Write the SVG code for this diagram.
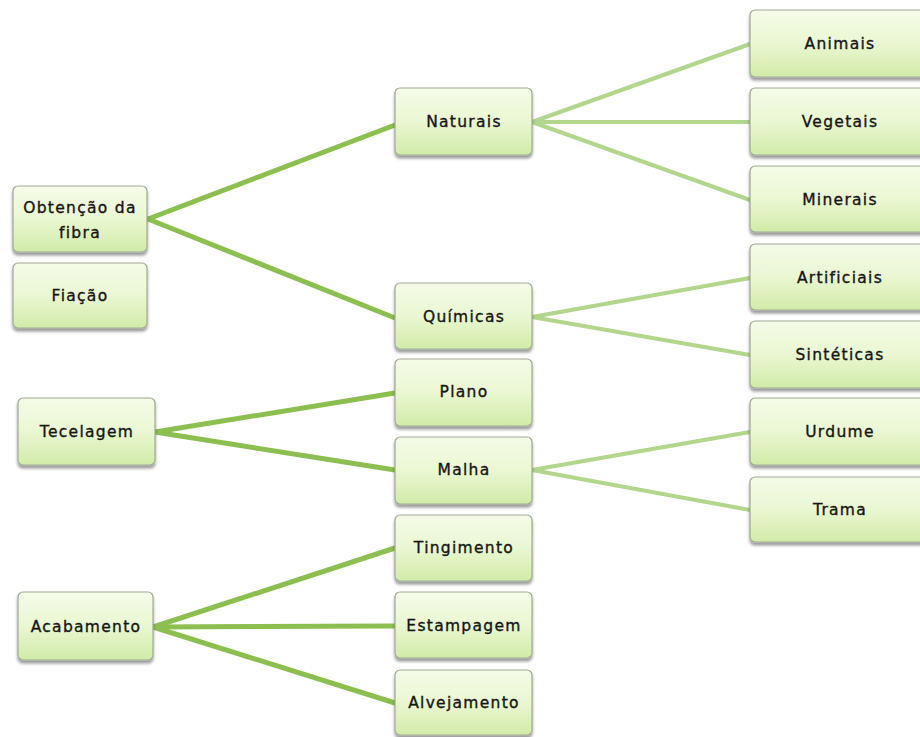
<svg xmlns="http://www.w3.org/2000/svg" width="920" height="737" viewBox="0 0 920 737">
<defs>
<linearGradient id="g" x1="0" y1="0" x2="0" y2="1">
<stop offset="0" stop-color="#f5fbe8"/>
<stop offset="0.5" stop-color="#eaf7d2"/>
<stop offset="1" stop-color="#d1eba8"/>
</linearGradient>
<filter id="sh" x="-10%" y="-10%" width="120%" height="130%">
<feGaussianBlur in="SourceAlpha" stdDeviation="1.5"/>
<feOffset dx="0" dy="2.5" result="b"/>
<feComponentTransfer><feFuncA type="linear" slope="0.4"/></feComponentTransfer>
<feMerge><feMergeNode/><feMergeNode in="SourceGraphic"/></feMerge>
</filter>
</defs>
<style>
.box{fill:url(#g);stroke:#9fa995;stroke-width:1.2;filter:url(#sh)}
.t{font-family:"DejaVu Sans",Verdana,sans-serif;font-size:15.5px;letter-spacing:1.3px;fill:#151515;stroke:#151515;stroke-width:0.35;text-anchor:middle;dominant-baseline:central}
.l1{stroke:#8dbe50;stroke-width:5;fill:none;stroke-linecap:round}
.l2{stroke:#b2d68b;stroke-width:4;fill:none;stroke-linecap:round}
</style>
<rect width="920" height="737" fill="#ffffff"/>
<g id="connectors">
<line class="l1" x1="148" y1="219" x2="395" y2="125"/>
<line class="l1" x1="148" y1="219" x2="395" y2="318"/>
<line class="l2" x1="532" y1="122" x2="750" y2="44"/>
<line class="l2" x1="532" y1="122" x2="750" y2="122"/>
<line class="l2" x1="532" y1="122" x2="750" y2="200"/>
<line class="l2" x1="532" y1="317" x2="750" y2="278"/>
<line class="l2" x1="532" y1="317" x2="750" y2="355"/>
<line class="l1" x1="155" y1="432" x2="395" y2="393"/>
<line class="l1" x1="155" y1="432" x2="395" y2="470"/>
<line class="l2" x1="532" y1="470" x2="750" y2="432"/>
<line class="l2" x1="532" y1="470" x2="750" y2="510"/>
<line class="l1" x1="153" y1="627" x2="395" y2="548"/>
<line class="l1" x1="153" y1="627" x2="395" y2="626"/>
<line class="l1" x1="153" y1="627" x2="395" y2="703"/>
</g>
<g id="obtencao"><rect class="box" x="13" y="186" width="134" height="66" rx="5"/><text class="t" x="80" y="208">Obtenção da</text><text class="t" x="80" y="233">fibra</text></g>
<g id="fiacao"><rect class="box" x="13" y="263" width="134" height="65" rx="5"/><text class="t" x="80" y="296">Fiação</text></g>
<g id="tecelagem"><rect class="box" x="18" y="398" width="137" height="67" rx="5"/><text class="t" x="87" y="432">Tecelagem</text></g>
<g id="acabamento"><rect class="box" x="18" y="592" width="135" height="68" rx="5"/><text class="t" x="86" y="627">Acabamento</text></g>
<g id="naturais"><rect class="box" x="395" y="88" width="137" height="67" rx="5"/><text class="t" x="464" y="122">Naturais</text></g>
<g id="quimicas"><rect class="box" x="395" y="283" width="137" height="66" rx="5"/><text class="t" x="464" y="317">Químicas</text></g>
<g id="plano"><rect class="box" x="395" y="359" width="137" height="67" rx="5"/><text class="t" x="464" y="392">Plano</text></g>
<g id="malha"><rect class="box" x="395" y="437" width="137" height="67" rx="5"/><text class="t" x="464" y="470">Malha</text></g>
<g id="tingimento"><rect class="box" x="395" y="515" width="137" height="66" rx="5"/><text class="t" x="464" y="548">Tingimento</text></g>
<g id="estampagem"><rect class="box" x="395" y="592" width="137" height="66" rx="5"/><text class="t" x="464" y="626">Estampagem</text></g>
<g id="alvejamento"><rect class="box" x="395" y="670" width="137" height="65" rx="5"/><text class="t" x="464" y="703">Alvejamento</text></g>
<g id="animais"><rect class="box" x="750" y="10" width="180" height="67" rx="5"/><text class="t" x="840" y="44">Animais</text></g>
<g id="vegetais"><rect class="box" x="750" y="88" width="180" height="67" rx="5"/><text class="t" x="840" y="122">Vegetais</text></g>
<g id="minerais"><rect class="box" x="750" y="166" width="180" height="66" rx="5"/><text class="t" x="840" y="200">Minerais</text></g>
<g id="artificiais"><rect class="box" x="750" y="244" width="180" height="66" rx="5"/><text class="t" x="840" y="278">Artificiais</text></g>
<g id="sinteticas"><rect class="box" x="750" y="321" width="180" height="67" rx="5"/><text class="t" x="840" y="355">Sintéticas</text></g>
<g id="urdume"><rect class="box" x="750" y="398" width="180" height="67" rx="5"/><text class="t" x="840" y="432">Urdume</text></g>
<g id="trama"><rect class="box" x="750" y="477" width="180" height="65" rx="5"/><text class="t" x="840" y="510">Trama</text></g>
</svg>
